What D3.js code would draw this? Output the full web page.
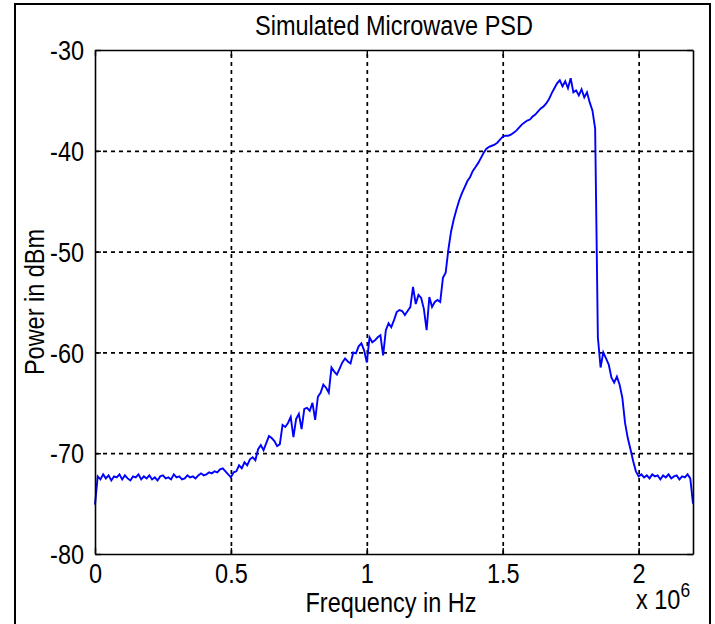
<!DOCTYPE html>
<html>
<head>
<meta charset="utf-8">
<script src="https://cdn.jsdelivr.net/npm/d3@7"></script>
<style>
  body { margin: 0; background: #fff; }
  text { font-family: Arial, "Liberation Sans", Helvetica, sans-serif; fill: #000; }
</style>
</head>
<body>
<svg id="chart" width="715" height="624"></svg>
<script>
// Power spectral density samples, one every 10 kHz from 0 to 2.2 MHz (dBm)
const freqStepHz = 1e4;
const powerDbm = [
  -75.1,
  -72.3, -72.6, -72.1, -72.5, -72.2, -72.7, -72.3, -72.4, -72.1, -72.6,
  -72.2, -72.5, -72.7, -72.3, -72.4, -72.1, -72.6, -72.3, -72.5, -72.2,
  -72.6, -72.4, -72.7, -72.3, -72.2, -72.5, -72.4, -72.6, -72.1, -72.4,
  -72.3, -72.6, -72.5, -72.2, -72.4, -72.3, -72.5,
  -72.2, -72.0, -72.2, -72.1, -71.9, -72.0, -71.8,
  -71.9, -71.6, -71.5, -71.8, -72.1, -72.4,
  -71.9, -71.8, -71.2, -71.5, -70.9, -71.2, -70.6, -70.4, -70.7,
  -69.6, -69.2, -69.7, -69.0, -68.3, -68.5, -68.8, -69.3, -69.1, -67.2,
  -67.4, -67.0, -66.4, -68.4, -66.6, -66.1, -67.6, -65.6, -65.5, -65.8,
  -65.0, -66.7, -64.4, -64.0, -63.2, -63.5, -64.0, -61.5, -61.9, -62.2,
  -61.6, -61.0, -60.6, -60.9, -61.1, -60.0, -60.1, -59.4, -59.1, -59.8,
  -61.0, -58.5, -59.0, -58.8, -58.5, -58.3, -60.3, -57.8, -57.1, -57.5,
  -56.8, -56.0, -55.8, -55.9, -56.3, -55.9, -55.5, -53.5, -55.2, -54.3,
  -54.6, -55.7, -57.8, -54.5, -55.5, -55.0, -54.8, -55.0, -52.6, -52.1,
  -49.8, -48.0, -46.8, -45.8, -44.9, -44.2, -43.6, -43.0, -42.6, -42.0,
  -41.6, -41.2, -40.7, -40.2, -39.8, -39.6, -39.5, -39.4, -39.2, -38.9,
  -38.6, -38.5, -38.5, -38.4, -38.2, -38.0, -37.7, -37.4, -37.2, -37.0,
  -36.9, -36.6, -36.4, -36.1, -35.8, -35.6, -35.3, -34.9, -34.3, -33.8,
  -33.3, -33.0, -33.6, -33.1, -33.8, -32.8, -34.2, -34.0, -34.5, -33.9,
  -34.7, -34.2, -35.2, -36.0, -37.8, -58.5, -61.5, -60.0, -60.6, -61.2,
  -62.5, -63.0, -62.4, -63.2, -64.5, -67.0, -68.5, -69.6, -70.8, -71.8,
  -72.3, -72.1, -72.4, -72.2, -72.5, -72.1, -72.3, -72.2, -72.6, -72.2,
  -72.4, -72.1, -72.5, -72.3, -72.2, -72.6, -72.3, -72.4, -72.1, -72.5,
  -75.0
];
const freqHz = powerDbm.map((_, i) => i * freqStepHz);

const xTickValues = [0, 0.5e6, 1e6, 1.5e6, 2e6];
const xTickLabels = ["0", "0.5", "1", "1.5", "2"];
const yTickValues = [-80, -70, -60, -50, -40, -30];
const yTickLabels = ["-80", "-70", "-60", "-50", "-40", "-30"];

const titleText = "Simulated Microwave PSD";
const xLabelText = "Frequency in Hz";
const yLabelText = "Power in dBm";

// layout
const plot = { left: 95, right: 693, top: 50, bottom: 554 };
const fontSize = 27;
const squeeze = 0.87;   // narrow glyphs

const svg = d3.select("#chart");

svg.append("rect")
  .attr("x", 0).attr("y", 0).attr("width", 715).attr("height", 624)
  .attr("fill", "#fff");

// figure frame
svg.append("rect")
  .attr("x", 15).attr("y", 4).attr("width", 695).attr("height", 640)
  .attr("fill", "none").attr("stroke", "#000").attr("stroke-width", 2);

const x = d3.scaleLinear().domain([0, 2.2e6]).range([plot.left, plot.right]);
const y = d3.scaleLinear().domain([-80, -30]).range([plot.bottom, plot.top]);

// dashed grid
const grid = svg.append("g").attr("class", "grid");
grid.append("g")
  .attr("transform", `translate(0,${plot.bottom})`)
  .call(d3.axisBottom(x).tickValues(xTickValues.slice(1))
    .tickSize(-(plot.bottom - plot.top)).tickFormat(""));
grid.append("g")
  .attr("transform", `translate(${plot.left},0)`)
  .call(d3.axisLeft(y).tickValues(yTickValues.slice(1, -1))
    .tickSize(-(plot.right - plot.left)).tickFormat(""));
grid.selectAll(".domain").remove();
grid.selectAll("line")
  .attr("stroke", "#000").attr("stroke-width", 1.7).attr("stroke-dasharray", "4,4");

// data line
const line = d3.line()
  .x((d, i) => x(freqHz[i]))
  .y(d => y(d));
svg.append("path")
  .datum(powerDbm)
  .attr("d", line)
  .attr("fill", "none")
  .attr("stroke", "#0000ff")
  .attr("stroke-width", 1.9)
  .attr("stroke-linejoin", "miter");

// axes box with inward ticks
const tickLen = 6;
function styleAxis(g) {
  g.select(".domain").attr("stroke", "#000").attr("stroke-width", 1.6);
  g.selectAll(".tick line").attr("stroke", "#000").attr("stroke-width", 1.4);
}
const axB = svg.append("g").attr("transform", `translate(0,${plot.bottom})`)
  .call(d3.axisBottom(x).tickValues(xTickValues).tickSizeInner(-tickLen).tickSizeOuter(0)
    .tickFormat((d, i) => xTickLabels[i]).tickPadding(10));
const axT = svg.append("g").attr("transform", `translate(0,${plot.top})`)
  .call(d3.axisTop(x).tickValues(xTickValues).tickSizeInner(-tickLen).tickSizeOuter(0).tickFormat(""));
const axL = svg.append("g").attr("transform", `translate(${plot.left},0)`)
  .call(d3.axisLeft(y).tickValues(yTickValues).tickSizeInner(-tickLen).tickSizeOuter(0)
    .tickFormat((d, i) => yTickLabels[i]));
const axR = svg.append("g").attr("transform", `translate(${plot.right},0)`)
  .call(d3.axisRight(y).tickValues(yTickValues).tickSizeInner(-tickLen).tickSizeOuter(0).tickFormat(""));
[axB, axT, axL, axR].forEach(styleAxis);

axB.selectAll(".tick text")
  .attr("font-size", fontSize).attr("font-family", null).attr("fill", "#000")
  .attr("y", 0).attr("dy", 0)
  .attr("transform", `translate(0,29) scale(${squeeze},1)`);
axL.selectAll(".tick text")
  .attr("font-size", fontSize).attr("font-family", null).attr("fill", "#000")
  .attr("x", 0).attr("dy", "0.36em")
  .attr("transform", `translate(-11,0) scale(${squeeze},1)`);
svg.selectAll(".tick text").style("font-family", "Arial, 'Liberation Sans', sans-serif");

// titles
function label(txt, tx, ty, rot, anchor) {
  return svg.append("text")
    .attr("transform", `translate(${tx},${ty}) rotate(${rot}) scale(${squeeze},1)`)
    .attr("text-anchor", anchor || "middle")
    .attr("font-size", fontSize)
    .text(txt);
}
label(titleText, 394, 35, 0);
label(xLabelText, 391, 612, 0);
label(yLabelText, 44, 302, -90);

// exponent marker for the frequency axis
const expo = svg.append("text")
  .attr("transform", `translate(636,609) scale(${squeeze},1)`)
  .attr("font-size", fontSize);
expo.append("tspan").text("x 10");
expo.append("tspan").attr("font-size", 20).attr("dy", -12).text("6");
</script>
</body>
</html>
